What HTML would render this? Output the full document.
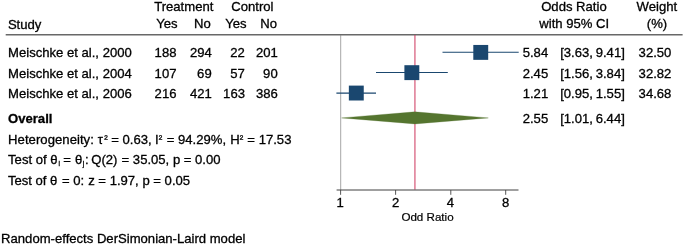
<!DOCTYPE html>
<html><head><meta charset="utf-8">
<style>
html,body{margin:0;padding:0;background:#fff;}
body{width:685px;height:245px;overflow:hidden;}
svg{display:block;}
text{font-family:"Liberation Sans",sans-serif;font-size:13.1px;fill:#000;stroke:#000;stroke-width:0.3px;}
.b{font-weight:bold;}
.s{font-size:11.6px;stroke-width:0.2px;}
</style></head><body>
<svg width="685" height="245" viewBox="0 0 685 245">
<rect width="685" height="245" fill="#fff"/>
<!-- header -->
<text x="7.9" y="28.65">Study</text>
<text x="154.2" y="10.55">Treatment</text>
<text x="156.3" y="28.30">Yes</text>
<text x="194.0" y="28.30">No</text>
<text x="231.3" y="10.55">Control</text>
<text x="225.3" y="28.30">Yes</text>
<text x="260.3" y="28.30">No</text>
<text x="541.2" y="10.55">Odds Ratio</text>
<text x="539.3" y="28.30">with 95% CI</text>
<text x="636.6" y="10.55">Weight</text>
<text x="646.8" y="28.30">(%)</text>
<!-- rows -->
<text x="8.05" y="57.3">Meischke et al., 2000</text>
<text x="8.05" y="77.9">Meischke et al., 2004</text>
<text x="8.05" y="98.25">Meischke et al., 2006</text>
<text x="154.6" y="57.35">188</text><text x="189.9" y="57.35">294</text><text x="230.3" y="57.35">22</text><text x="255.9" y="57.35">201</text>
<text x="154.6" y="77.95">107</text><text x="197.1" y="77.95">69</text><text x="230.3" y="77.95">57</text><text x="263.1" y="77.95">90</text>
<text x="154.6" y="98.35">216</text><text x="189.9" y="98.35">421</text><text x="223.1" y="98.35">163</text><text x="255.9" y="98.35">386</text>
<text x="522.7" y="57.35">5.84</text><text x="560.2" y="57.35">[3.63,</text><text x="595.7" y="57.35">9.41]</text><text x="638.6" y="57.35">32.50</text>
<text x="522.7" y="77.95">2.45</text><text x="560.2" y="77.95">[1.56,</text><text x="595.7" y="77.95">3.84]</text><text x="638.6" y="77.95">32.82</text>
<text x="522.7" y="98.35">1.21</text><text x="560.2" y="98.35">[0.95,</text><text x="595.7" y="98.35">1.55]</text><text x="638.6" y="98.35">34.68</text>
<text x="522.7" y="123.00">2.55</text><text x="560.2" y="123.00">[1.01,</text><text x="595.7" y="123.00">6.44]</text>
<text class="b" x="8" y="123.00">Overall</text>
<text x="8.05" y="143.85"><tspan letter-spacing="0.05">Heterogeneity:</tspan><tspan dx="0.2"> τ</tspan><tspan font-size="10.5" dx="1.4" dy="-0.9">²</tspan><tspan dx="-0.17" dy="0.9"> = 0.63,</tspan><tspan dx="-0.3"> I</tspan><tspan font-size="10.5" dx="0.15" dy="-0.9">²</tspan><tspan dx="0.71" dy="0.9"> = 94.29%,</tspan><tspan dx="0.65"> H</tspan><tspan font-size="10.5" dx="-0.15" dy="-0.9">²</tspan><tspan dx="0.61" dy="0.9"> = 17.53</tspan></text>
<text x="8.05" y="164.4">Test of θ<tspan font-size="6.5" dx="0.95" dy="1.9">i</tspan><tspan dx="-0.4" dy="-1.9"> =</tspan><tspan dx="0.4"> θ</tspan><tspan font-size="6.5" dx="0.65" dy="1.9">j</tspan><tspan dx="0.68" dy="-1.9">:</tspan><tspan dx="-1.0"> Q(2)</tspan><tspan dx="0.5"> = 35.05, p = 0.00</tspan></text>
<text x="7.9" y="184.5">Test of θ<tspan dx="0.9"> = 0:</tspan><tspan dx="0.4"> z = 1.97, p = 0.05</tspan></text>
<text x="1.1" y="242.8">Random-effects DerSimonian-Laird model</text>
<!-- plot -->
<rect x="5.7" y="34" width="676.9" height="1.5" fill="#686868"/>
<line x1="340.7" y1="35" x2="340.7" y2="190" stroke="#808080" stroke-width="0.7"/>
<line x1="414.95" y1="35" x2="414.95" y2="189.6" stroke="#ce355b" stroke-width="1"/>
<line x1="336.6" y1="190" x2="518.5" y2="190" stroke="#404040" stroke-width="1"/>
<g stroke="#444" stroke-width="0.9">
<line x1="340.6" y1="190" x2="340.6" y2="194.8"/>
<line x1="395.6" y1="190" x2="395.6" y2="194.8"/>
<line x1="450.8" y1="190" x2="450.8" y2="194.8"/>
<line x1="505.7" y1="190" x2="505.7" y2="194.8"/>
</g>
<g text-anchor="middle">
<text x="340.2" y="207.4">1</text><text x="395.6" y="207.4">2</text><text x="450.4" y="207.4">4</text><text x="505.7" y="207.4">8</text>
</g>
<text class="s" x="401.4" y="221.25">Odd Ratio</text>
<g stroke="#1a476f" stroke-width="1.05">
<line x1="442.5" y1="52.3" x2="518.7" y2="52.3"/>
<line x1="376" y1="72.5" x2="447.8" y2="72.5"/>
<line x1="336.4" y1="93.1" x2="376" y2="93.1"/>
</g>
<g fill="#1a476f">
<rect x="473.3" y="44.95" width="14.9" height="14.9"/>
<rect x="404.4" y="65.2" width="14.9" height="14.9"/>
<rect x="348.85" y="85.6" width="14.9" height="14.9"/>
</g>
<polygon points="341.6,117.9 414.9,111.85 488.3,117.9 414.9,123.9" fill="#55752f" stroke="#55752f" stroke-width="0.3"/>
</svg>
</body></html>
